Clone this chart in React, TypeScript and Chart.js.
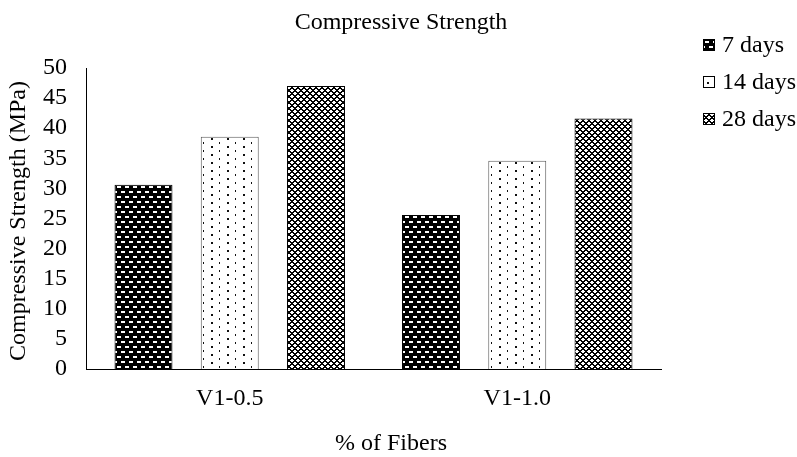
import React, { useEffect, useRef } from "react";
import { Chart, registerables } from "chart.js";

Chart.register(...registerables);

const categories = ["V1-0.5", "V1-1.0"];
const seriesLabels = ["7 days", "14 days", "28 days"];
const days7 = [30.6, 25.6];
const days14 = [38.6, 34.6];
const days28 = [47.0, 41.6];
const yMin = 0;
const yMax = 50;
const yStep = 5;

const chartTitle = "Compressive Strength";
const xTitle = "% of Fibers";
const yTitle = "Compressive Strength (MPa)";

const FONT = '"Liberation Serif", "Times New Roman", serif';

function makePattern(w: number, h: number, draw: (c: CanvasRenderingContext2D) => void) {
  const cv = document.createElement("canvas");
  cv.width = w;
  cv.height = h;
  const c = cv.getContext("2d")!;
  draw(c);
  return c.createPattern(cv, "repeat")!;
}

function pattern7() {
  return makePattern(8, 10, (c) => {
    c.fillStyle = "#000";
    c.fillRect(0, 0, 8, 10);
    c.fillStyle = "#fff";
    c.fillRect(1, 1, 4, 2);
    c.fillRect(5, 6, 3, 2);
    c.fillRect(0, 6, 1, 2);
  });
}

function pattern14() {
  return makePattern(16, 8, (c) => {
    c.fillStyle = "#fff";
    c.fillRect(0, 0, 16, 8);
    c.fillStyle = "#111";
    c.fillRect(3, 2, 2, 2);
    c.fillRect(11, 6, 1, 2);
  });
}

function pattern28() {
  return makePattern(6, 6, (c) => {
    c.fillStyle = "#fff";
    c.fillRect(0, 0, 6, 6);
    c.fillStyle = "#000";
    for (let y = 0; y < 6; y++) {
      for (let x = 0; x < 6; x++) {
        const a = (x - y + 12) % 6;
        const b = (x + y) % 6;
        if (a < 2 || b < 2) c.fillRect(x, y, 1, 1);
      }
    }
  });
}

const decorPlugin = {
  id: "decor",
  afterDraw(chart: any) {
    const ctx = chart.ctx as CanvasRenderingContext2D;
    ctx.save();
    ctx.fillStyle = "#000";
    ctx.font = `24px ${FONT}`;
    ctx.textAlign = "center";
    ctx.textBaseline = "alphabetic";
    ctx.fillText(chartTitle, 401, 29);
    ctx.fillText(xTitle, 391, 450);
    ctx.save();
    ctx.translate(25, 221);
    ctx.rotate(-Math.PI / 2);
    ctx.fillText(yTitle, 0, 0);
    ctx.restore();

    chart.data.datasets.forEach((ds: any, i: number) => {
      const cy = 45 + i * 37;
      ctx.fillStyle = ds.backgroundColor;
      ctx.fillRect(703, cy - 6, 12, 12);
      ctx.strokeStyle = "#000";
      ctx.lineWidth = 1;
      ctx.strokeRect(703.5, cy - 5.5, 11, 11);
      ctx.fillStyle = "#000";
      ctx.textAlign = "left";
      ctx.textBaseline = "middle";
      ctx.fillText(ds.label, 722, cy + 1);
    });
    ctx.restore();
  },
};

export default function App() {
  const ref = useRef<HTMLCanvasElement | null>(null);

  useEffect(() => {
    if (!ref.current) return;
    const tickFont = { family: FONT, size: 24 };
    const chart = new Chart(ref.current, {
      type: "bar",
      data: {
        labels: categories,
        datasets: [
          {
            label: seriesLabels[0],
            data: days7,
            backgroundColor: pattern7() as any,
            borderColor: "#000",
            borderWidth: 1,
          },
          {
            label: seriesLabels[1],
            data: days14,
            backgroundColor: pattern14() as any,
            borderColor: "#595959",
            borderWidth: 1,
          },
          {
            label: seriesLabels[2],
            data: days28,
            backgroundColor: pattern28() as any,
            borderColor: "#000",
            borderWidth: 1,
          },
        ],
      },
      options: {
        animation: false,
        responsive: false,
        maintainAspectRatio: false,
        categoryPercentage: 0.9,
        barPercentage: 0.672,
        layout: { padding: { top: 68, right: 136, bottom: 48, left: 0 } },
        plugins: {
          legend: { display: false },
          title: { display: false },
          tooltip: { enabled: false },
        },
        scales: {
          x: {
            grid: { display: false, drawTicks: false },
            border: { display: true, color: "#000", width: 1 },
            ticks: { color: "#000", font: tickFont, padding: 15 },
            afterFit: (s: any) => {
              s.height = 40;
            },
          },
          y: {
            min: yMin,
            max: yMax,
            grid: { display: false, drawTicks: false },
            border: { display: true, color: "#000", width: 1 },
            ticks: {
              stepSize: yStep,
              autoSkip: false,
              color: "#000",
              font: tickFont,
              padding: 19,
            },
            afterFit: (s: any) => {
              s.width = 86;
            },
          },
        },
      } as any,
      plugins: [decorPlugin],
    });
    return () => chart.destroy();
  }, []);

  return (
    <div style={{ position: "absolute", left: 0, top: 0, width: 797, height: 457, background: "#fff" }}>
      <canvas ref={ref} width={797} height={457} style={{ display: "block" }} />
    </div>
  );
}
